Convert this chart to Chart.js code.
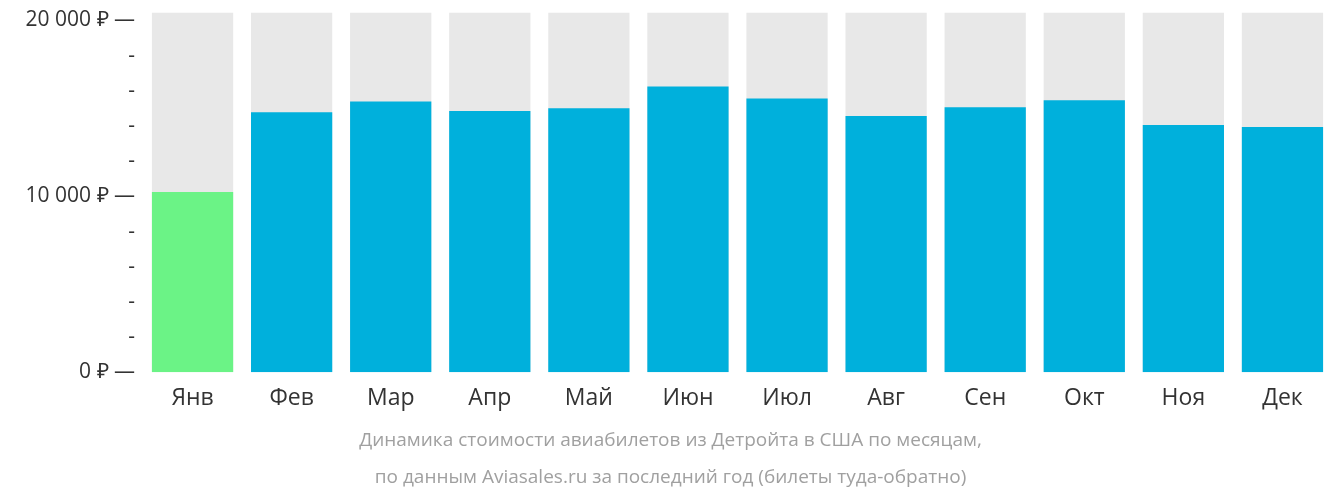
<!DOCTYPE html>
<html><head><meta charset="utf-8">
<script src="https://cdn.jsdelivr.net/npm/chart.js@4"></script>
<style>html,body{margin:0;background:#fff}#w{width:1332px;height:502px}</style>
</head><body><div id="w"><canvas id="c"></canvas></div>
<script>
const months = ['Янв','Фев','Мар','Апр','Май','Июн','Июл','Авг','Сен','Окт','Ноя','Дек'];
const prices = [10250, 14790, 15400, 14850, 15010, 16250, 15570, 14570, 15070, 15460, 14060, 13950];
const yMax = 20450;
const majorLabels = { 0: '0 ₽ —', 10000: '10 000 ₽ —', 20000: '20 000 ₽ —' };

new Chart(document.getElementById('c'), {
  type: 'bar',
  data: {
    labels: months,
    datasets: [
      { data: prices, backgroundColor: prices.map((v, i) => i === 0 ? '#6bf386' : '#00b0dc'), grouped: false, order: 1 },
      { data: months.map(() => yMax), backgroundColor: '#e8e8e8', grouped: false, order: 2 }
    ]
  },
  options: {
    responsive: true, maintainAspectRatio: false, animation: false,
    layout: { padding: { top: -16, right: -9, bottom: 6 } },
    categoryPercentage: 0.82, barPercentage: 1,
    plugins: {
      legend: { display: false }, tooltip: { enabled: false },
      title: {
        display: true, position: 'bottom', color: '#a0a0a0',
        text: ['Динамика стоимости авиабилетов из Детройта в США по месяцам,', 'по данным Aviasales.ru за последний год (билеты туда-обратно)'],
        font: { family: 'Open Sans', size: 19, weight: 'normal', lineHeight: 1.95 }, padding: { top: 6, bottom: 0 }
      }
    },
    scales: {
      x: {
        grid: { display: false }, border: { display: false },
        ticks: { color: '#333', font: { family: 'Open Sans', size: 23 }, padding: 4 }
      },
      y: {
        min: 0, max: yMax, afterFit: s => { s.width = 143; },
        afterBuildTicks: s => { s.ticks = []; for (let v = 0; v <= 20000; v += 2000) s.ticks.push({ value: v }); },
        grid: { display: false }, border: { display: false },
        ticks: {
          color: '#333', font: { family: 'Open Sans', size: 21 }, padding: 0,
          callback: v => majorLabels[v] !== undefined ? majorLabels[v] : '-'
        }
      }
    }
  }
});
</script></body></html>
